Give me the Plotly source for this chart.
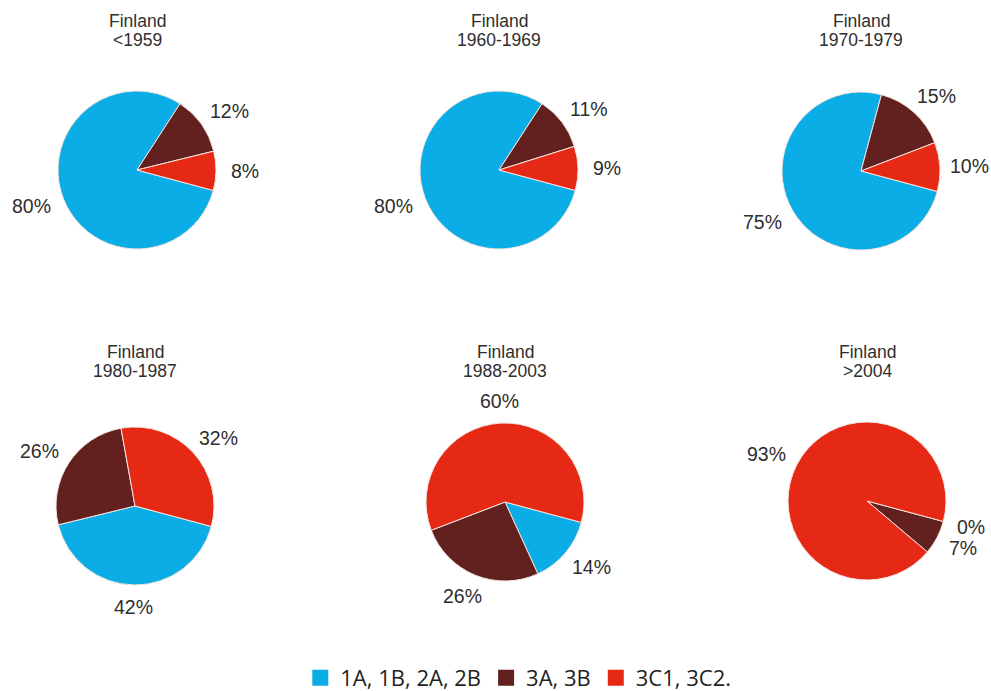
import math
import plotly.graph_objects as go

W, H = 991, 691

# Steel classes and their colours
categories = ["1A, 1B, 2A, 2B", "3A, 3B", "3C1, 3C2."]
colors = ["#0AADE5", "#62211F", "#E52914"]

country = "Finland"
periods = ["&lt;1959", "1960-1969", "1970-1979", "1980-1987", "1988-2003", "&gt;2004"]

# Share (%) of each class per construction period, same order as categories
share_pre1959 = [80, 12, 8]
share_1960s = [80, 11, 9]
share_1970s = [75, 15, 10]
share_1980s = [42, 26, 32]
share_1988_2003 = [14, 26, 60]
share_post2004 = [0, 7, 93]

shares = [share_pre1959, share_1960s, share_1970s,
          share_1980s, share_1988_2003, share_post2004]

# Layout of the 2x3 grid (pixel centres of each pie) and pie radius
centres = [(137, 170), (499, 170), (861, 171),
           (135, 506), (505, 502), (867, 501)]
R = 79
ROTATION = 105          # first slice starts just below 3 o'clock
LABEL_GAP = 15
LABEL_SIZE = 19.5
TITLE_SIZE = 17.5
TEXT_FONT = "Liberation Sans"
TEXT_COLOR = "#2E2E2E"

fig = go.Figure()
annotations = []

for k, (vals, (cx, cy), period) in enumerate(zip(shares, centres, periods)):
    fig.add_trace(go.Pie(
        values=vals,
        labels=categories,
        marker=dict(colors=colors, line=dict(color="#F4E4E0", width=1)),
        sort=False,
        direction="clockwise",
        rotation=ROTATION,
        textinfo="none",
        hoverinfo="label+percent",
        showlegend=False,
        domain=dict(x=[(cx - R) / W, (cx + R) / W],
                    y=[1 - (cy + R) / H, 1 - (cy - R) / H]),
    ))

    # two-line title above each pie
    top = 21 if k < 3 else 352
    for line, dy in ((country, 0), (period, 19)):
        annotations.append(dict(x=cx / W, y=1 - (top + dy) / H, xref="paper", yref="paper",
                                text=line, showarrow=False, xanchor="center", yanchor="middle",
                                height=18, valign="middle",
                                font=dict(family=TEXT_FONT, size=TITLE_SIZE, color=TEXT_COLOR)))

    # percentage labels outside each slice, at the slice's mid angle
    total = float(sum(vals))
    start = ROTATION
    for v in vals:
        sweep = 360.0 * v / total
        mid = math.radians(start + sweep / 2)
        start += sweep
        ux, uy = math.sin(mid), -math.cos(mid)
        txt = f"{v}%"
        tw = (0.556 * (len(txt) - 1) + 0.889) * LABEL_SIZE
        th = 0.72 * LABEL_SIZE
        px = cx + ux * (R + LABEL_GAP) + ux * tw / 2
        py = cy + uy * (R + LABEL_GAP) + uy * th / 2
        px = min(max(px, tw / 2 + 2), W - tw / 2 - 2)   # keep labels on the page
        annotations.append(dict(x=px / W, y=1 - py / H, xref="paper", yref="paper",
                                text=txt, showarrow=False, xanchor="center", yanchor="middle",
                                font=dict(family=TEXT_FONT, size=LABEL_SIZE, color=TEXT_COLOR)))

# legend entries with large square swatches
for name, col in zip(categories, colors):
    fig.add_trace(go.Scatter(x=[None], y=[None], mode="markers", name=name,
                             marker=dict(symbol="square", size=16, color=col),
                             hoverinfo="skip"))

fig.update_layout(
    width=W, height=H,
    margin=dict(l=0, r=0, t=0, b=0, autoexpand=False),
    paper_bgcolor="white",
    plot_bgcolor="white",
    xaxis=dict(visible=False),
    yaxis=dict(visible=False),
    annotations=annotations,
    showlegend=True,
    legend=dict(orientation="h", x=0.523, xanchor="center",
                y=1 - 678 / H, yanchor="middle",
                font=dict(family="Open Sans", size=22, color="#231F20"),
                itemclick=False, bgcolor="rgba(0,0,0,0)"),
)

fig.write_html("out.html")
